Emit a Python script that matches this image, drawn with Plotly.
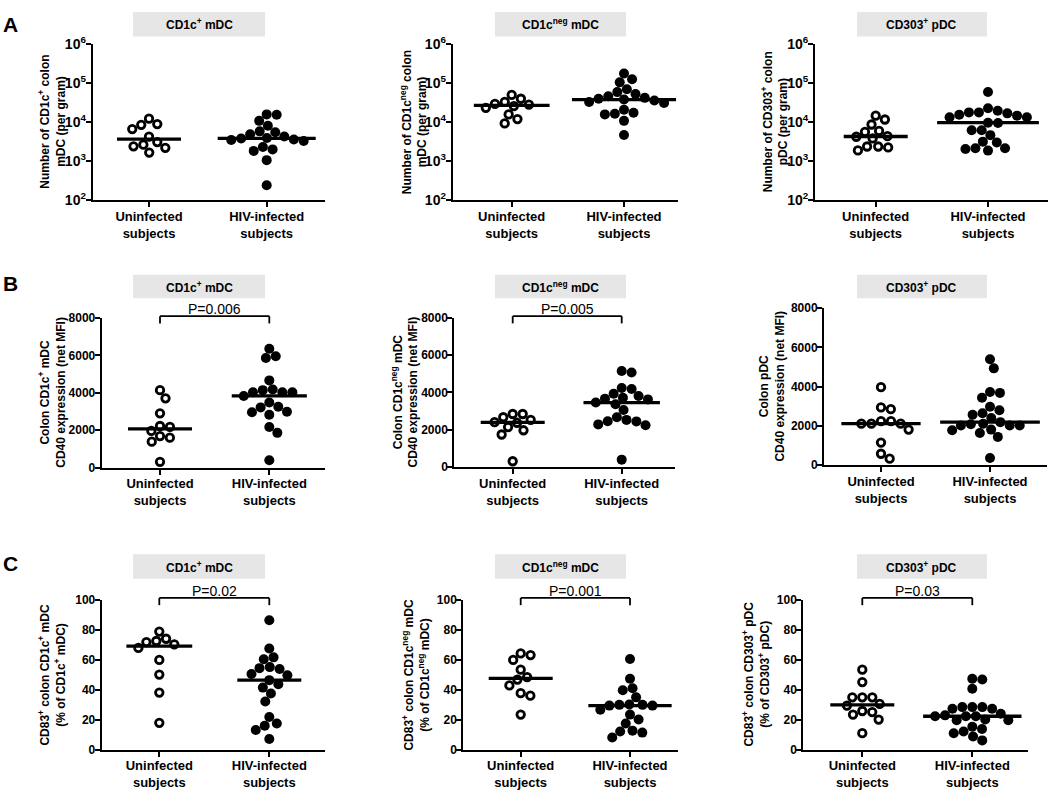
import numpy as np
import plotly.graph_objects as go

W, H = 1050, 794
FONT = "Liberation Sans, Arial, sans-serif"

categories = ["Uninfected<br>subjects", "HIV-infected<br>subjects"]
cell_types = ["CD1c<sup>+</sup> mDC", "CD1c<sup>neg</sup> mDC", "CD303<sup>+</sup> pDC"]
panel_letters = ["A", "B", "C"]

# Row A: number of colon DC per gram (log scale)
a_cd1c_pos_uninfected = [3090, 2400, 6640, 8900, 4270, 1660, 12300, 8550, 2190, 2650]
a_cd1c_pos_hiv = [15800, 10800, 15500, 8100, 4300, 5500, 5800, 4900, 3800, 3500, 3600, 3300,
                  3900, 2300, 2000, 1830, 1060, 240]
a_cd1c_neg_uninfected = [39800, 29500, 25900, 15800, 23300, 9300, 28200, 12000, 33000, 50000]
a_cd1c_neg_hiv = [177000, 126000, 105000, 70000, 59000, 52500, 46000, 38000, 33000, 31000,
                  42000, 36000, 20800, 17500, 16500, 15800, 10800, 4700, 40000]
a_cd303_uninfected = [4360, 11700, 3830, 2370, 5960, 14700, 1880, 5620, 2240, 2370, 8700, 4220]
a_cd303_hiv = [59600, 22700, 17800, 15500, 13300, 13300, 14700, 16800, 17800, 19700, 9500,
               9700, 6200, 4640, 6200, 2990, 2150, 1860, 2040, 2150, 3160]

# Row B: CD40 expression (net MFI)
b_cd1c_pos_uninfected = [1965, 1600, 4140, 2226, 1391, 2904, 3704, 1687, 2174, 313]
b_cd1c_pos_hiv = [6350, 5950, 5860, 4660, 4170, 4030, 4030, 3830, 4030, 4140, 3250, 2990,
                  2830, 2960, 3220, 3480, 2170, 1860, 400]
b_cd1c_neg_uninfected = [2376, 2847, 1974, 2533, 1747, 2672, 2148, 2847, 2410, 314]
b_cd1c_neg_hiv = [5070, 5150, 4240, 4190, 3670, 3930, 3810, 3630, 3720, 3460, 3370, 3060,
                  2670, 2460, 2290, 2240, 2450, 2530, 400]
b_cd303_uninfected = [2240, 2110, 1810, 2110, 2110, 2240, 2940, 2850, 3970, 1150, 580, 330]
b_cd303_hiv = [5390, 4930, 3430, 3730, 3680, 2970, 2800, 2640, 2570, 2400, 2080, 2020, 2190,
               2020, 2110, 2020, 1810, 1780, 1640, 1440, 365]

# Row C: CD83+ (% of population)
c_cd1c_pos_uninfected = [72.4, 70.2, 67.8, 78.7, 71.7, 73.9, 59.8, 50.0, 38.0, 17.8]
c_cd1c_pos_hiv = [86.3, 61.5, 60.2, 67.4, 54.3, 50.4, 49.6, 55.0, 53.7, 46.3, 43.5, 41.3,
                  37.4, 32.0, 21.7, 15.9, 17.4, 13.0, 7.0]
c_cd1c_neg_uninfected = [63.0, 53.3, 59.8, 64.1, 46.7, 48.3, 42.8, 37.6, 35.9, 23.3]
c_cd1c_neg_hiv = [60.4, 47.2, 40.9, 39.6, 34.8, 30.0, 29.3, 26.5, 29.3, 29.8, 29.8, 23.3,
                  20.0, 17.4, 12.0, 11.3, 12.6, 8.0]
c_cd303_uninfected = [34.8, 34.8, 29.3, 30.4, 34.8, 25.7, 23.3, 20.0, 25.0, 53.3, 45.0, 10.9]
c_cd303_hiv = [46.7, 47.2, 40.6, 23.9, 28.3, 27.2, 28.3, 27.2, 28.3, 22.2, 19.6, 22.2, 20.0,
               22.2, 19.6, 22.8, 13.7, 10.9, 6.1, 8.7, 12.0, 15.2]

y_titles = [
    "Number of CD1c<sup>+</sup> colon<br>mDC (per gram)",
    "Number of CD1c<sup>neg</sup> colon<br>mDC (per gram)",
    "Number of CD303<sup>+</sup> colon<br>pDC (per gram)",
    "Colon CD1c<sup>+</sup> mDC<br>CD40 expression (net MFI)",
    "Colon CD1c<sup>neg</sup> mDC<br>CD40 expression (net MFI)",
    "Colon pDC<br>CD40 expression (net MFI)",
    "CD83<sup>+</sup> colon CD1c<sup>+</sup> mDC<br>(% of CD1c<sup>+</sup> mDC)",
    "CD83<sup>+</sup> colon CD1c<sup>neg</sup> mDC<br>(% of CD1c<sup>neg</sup> mDC)",
    "CD83<sup>+</sup> colon CD303<sup>+</sup> pDC<br>(% of CD303<sup>+</sup> pDC)",
]
p_labels = [None, None, None, "P=0.006", "P=0.005", None, "P=0.02", "P=0.001", "P=0.03"]

log_tickvals = [1e2, 1e3, 1e4, 1e5, 1e6]
log_ticktext = ["10<sup>2</sup>", "10<sup>3</sup>", "10<sup>4</sup>", "10<sup>5</sup>", "10<sup>6</sup>"]
mfi_tickvals = [0, 2000, 4000, 6000, 8000]
pct_tickvals = [0, 20, 40, 60, 80, 100]

panel_data = [
    (a_cd1c_pos_uninfected, a_cd1c_pos_hiv),
    (a_cd1c_neg_uninfected, a_cd1c_neg_hiv),
    (a_cd303_uninfected, a_cd303_hiv),
    (b_cd1c_pos_uninfected, b_cd1c_pos_hiv),
    (b_cd1c_neg_uninfected, b_cd1c_neg_hiv),
    (b_cd303_uninfected, b_cd303_hiv),
    (c_cd1c_pos_uninfected, c_cd1c_pos_hiv),
    (c_cd1c_neg_uninfected, c_cd1c_neg_hiv),
    (c_cd303_uninfected, c_cd303_hiv),
]

# ---- layout geometry (pixels) ----
# xl, xr: x-axis extent; t0, t1: category tick pixels; yt, yb: y-axis top/bottom; tx: y-title center
geometry = [
    (92.7, 325, 149, 266.7, 35, 194.5, 52.5),
    (452.7, 678, 511.7, 624, 35, 194.5, 414),
    (815, 1048, 875.7, 988, 35, 194.5, 775),
    (101.7, 325, 160, 269.3, 315, 468.3, 52),
    (454.3, 675, 512.7, 621.7, 315, 467.7, 405),
    (824, 1046.7, 881, 990, 305, 465.7, 772),
    (101.7, 325, 159.3, 269.3, 603.3, 756.7, 52),
    (463.3, 678, 520.7, 630, 603.3, 756.7, 416),
    (803.3, 1028, 862.3, 972.3, 603.3, 756.7, 756),
]
box_cols = [(133, 265), (495, 626), (857, 987)]
box_rows = [(2, 27), (271, 295), (557, 582)]
letter_pos = [(10, 14.5), (10, 280), (10, 566.5)]
row_ranges = [(2, 6), (0, 8000), (0, 100)]

SWARM_D = 10.0


def swarm(py):
    n = len(py)
    xs = np.zeros(n)
    placed = []
    for i in np.argsort(py):
        y = py[i]
        cands = [0.0]
        for xj, yj in placed:
            dy = abs(y - yj)
            if dy < SWARM_D:
                dx = np.sqrt(SWARM_D ** 2 - dy ** 2)
                cands += [xj + dx, xj - dx]
        cands.sort(key=lambda c: (round(abs(c), 3), -c))
        for c in cands:
            if all((c - xj) ** 2 + (y - yj) ** 2 >= SWARM_D ** 2 - 1e-6 for xj, yj in placed):
                xs[i] = c
                break
        placed.append((xs[i], y))
    return xs


fig = go.Figure()
shapes = []
annotations = []

for k, (unin, hiv) in enumerate(panel_data):
    row = k // 3
    col = k % 3
    xl, xr, t0, t1, yt, yb, tx = geometry[k]
    s = t1 - t0
    xrange = [(xl - t0) / s, 1 + (xr - t1) / s]
    lo, hi = row_ranges[row]
    is_log = row == 0

    def val_to_py(v):
        if is_log:
            f = (np.log10(v) - lo) / (hi - lo)
        else:
            f = (np.asarray(v) - lo) / (hi - lo)
        return yb - f * (yb - yt)

    def cat_to_paper(c):
        return (t0 + c * s) / W

    def val_to_paper(v):
        return 1 - val_to_py(v) / H

    xa = "x" if k == 0 else f"x{k + 1}"
    ya = "y" if k == 0 else f"y{k + 1}"
    xname = "xaxis" if k == 0 else f"xaxis{k + 1}"
    yname = "yaxis" if k == 0 else f"yaxis{k + 1}"

    for ci, vals in enumerate([unin, hiv]):
        vals = np.asarray(vals, dtype=float)
        offs = swarm(val_to_py(vals)) / s
        med = float(np.median(vals))
        hw = max(np.max(np.abs(offs)) + 12.0 / s, 32.0 / s)
        fig.add_trace(go.Scatter(
            x=[ci - hw, ci + hw], y=[med, med], mode="lines",
            line=dict(color="black", width=3.3), xaxis=xa, yaxis=ya,
            hoverinfo="skip", showlegend=False))
        if ci == 0:
            marker = dict(symbol="circle-open", size=7.5, color="black", line=dict(width=2.8, color="black"))
        else:
            marker = dict(symbol="circle", size=10, color="black", line=dict(width=0))
        fig.add_trace(go.Scatter(
            x=ci + offs, y=vals, mode="markers", marker=marker, xaxis=xa, yaxis=ya,
            cliponaxis=False, showlegend=False, name=categories[ci].replace("<br>", " ")))

    fig.layout[xname] = dict(
        domain=[xl / W, xr / W], range=xrange, anchor=ya,
        tickmode="array", tickvals=[0, 1], ticktext=categories,
        showline=True, linecolor="black", linewidth=2, ticks="outside", ticklen=5,
        tickwidth=2, tickcolor="black", showgrid=False, zeroline=False, ticklabelstandoff=-2,
        tickfont=dict(family=FONT, size=13, color="black", weight="bold"))
    yax = dict(
        domain=[1 - yb / H, 1 - yt / H], anchor=xa,
        showline=True, linecolor="black", linewidth=2, ticks="outside", ticklen=5,
        tickwidth=2, tickcolor="black", showgrid=False, zeroline=False, ticklabelstandoff=-3,
        tickfont=dict(family=FONT, size=12, color="black", weight="bold"))
    if is_log:
        yax.update(type="log", range=[lo, hi], tickmode="array",
                   tickvals=log_tickvals, ticktext=log_ticktext,
                   tickfont=dict(family=FONT, size=14, color="black", weight="bold"))
    else:
        yax.update(range=[lo, hi], tickmode="array",
                   tickvals=mfi_tickvals if row == 1 else pct_tickvals)
    fig.layout[yname] = yax

    # y-axis title
    annotations.append(dict(
        x=tx / W, y=1 - (yt + yb) / 2 / H, xref="paper", yref="paper",
        text=y_titles[k], textangle=-90, showarrow=False, xanchor="center", yanchor="middle",
        font=dict(family=FONT, size=12, color="black", weight="bold")))

    # significance bracket
    if p_labels[k]:
        top = hi + (hi - lo) * 0.011
        tick_end = hi - (hi - lo) * 0.037
        yb_top = val_to_paper(top)
        yb_end = val_to_paper(tick_end)
        x0p, x1p = cat_to_paper(0), cat_to_paper(1)
        for (ax0, ay0, ax1, ay1) in [(x0p, yb_top, x1p, yb_top), (x0p, yb_top, x0p, yb_end),
                                     (x1p, yb_top, x1p, yb_end)]:
            shapes.append(dict(type="line", xref="paper", yref="paper", x0=ax0, y0=ay0,
                               x1=ax1, y1=ay1, line=dict(color="black", width=1.8)))
        annotations.append(dict(
            x=(x0p + x1p) / 2, y=yb_top + 7.5 / H, xref="paper", yref="paper",
            text=p_labels[k], showarrow=False, xanchor="center", yanchor="middle",
            font=dict(family=FONT, size=14, color="black")))

    # cell-type header box
    bx0, bx1 = box_cols[col]
    by0, by1 = box_rows[row]
    shapes.append(dict(type="rect", xref="paper", yref="paper", x0=bx0 / W, x1=bx1 / W,
                       y0=1 - by1 / H, y1=1 - by0 / H, fillcolor="#e6e6e6",
                       line=dict(width=0), layer="below"))
    annotations.append(dict(
        x=(bx0 + bx1) / 2 / W, y=1 - (by0 + by1) / 2 / H, xref="paper", yref="paper",
        text=cell_types[col], showarrow=False, xanchor="center", yanchor="middle",
        font=dict(family=FONT, size=12, color="black", weight="bold")))

for r, letter in enumerate(panel_letters):
    lx, ly = letter_pos[r]
    annotations.append(dict(
        x=lx / W, y=1 - ly / H, xref="paper", yref="paper", text=letter, showarrow=False,
        xanchor="center", yanchor="middle",
        font=dict(family=FONT, size=21, color="black", weight="bold")))

fig.update_layout(
    width=W, height=H, margin=dict(l=0, r=0, t=0, b=0),
    paper_bgcolor="white", plot_bgcolor="white", showlegend=False,
    shapes=shapes, annotations=annotations,
    font=dict(family=FONT, color="black"))

fig.write_html("out.html", config={"displayModeBar": False},
               post_script="document.body.style.margin='0';document.body.style.overflow='hidden';")
